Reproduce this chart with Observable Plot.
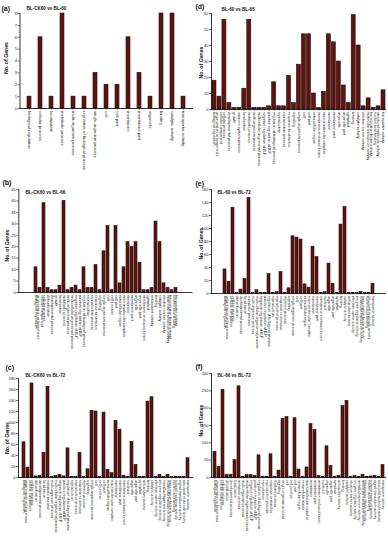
<!DOCTYPE html>
<html>
<head>
<meta charset="utf-8">
<script src="https://cdn.jsdelivr.net/npm/d3@7"></script>
<script src="https://cdn.jsdelivr.net/npm/@observablehq/plot@0.6"></script>
<style>
  html, body { margin: 0; padding: 0; background: #fff; }
  #root { position: relative; width: 388px; height: 550px; overflow: hidden; background: #fff; }
  .panel { position: absolute; }
  .panel svg { overflow: visible; }
</style>
</head>
<body>
<div id="root"></div>
<script>
// ---------- data ----------
const labelsA = ["biological regulation","cellular process","localization","metabolic process","multi-organism process","regulation of biological process","single-organism process","cell","cell part","membrane","membrane part","organelle","binding","catalytic activity","transporter activity"];
const valuesA = [1,6,1,8,1,1,3,2,2,6,3,1,8,8,1];

const labelsB = ["biological regulation","cellular component organization or biogenesis","cellular process","detoxification","developmental process","growth","localization","metabolic process","multi-organism process","multicellular organismal process","negative regulation of B.P","positive regulation of B.P","regulation of biological process","reproduction","reproductive process","response to stimulus","signaling","single-organism process","cell","cell junction","cell part","extracellular region","macromolecular complex","membrane","membrane part","organelle","organelle part","membrane-enclosed lumen","symplast","antioxidant activity","binding","catalytic activity","electron carrier activity","molecular transducer activity","nucleic acid binding transcription factor activity","transporter activity"];
const valuesB = [11,2,39,2,1,1,3,40,1,2,3,1,11,2,2,12,1,18,29,1,29,4,11,22,20,22,13,1,1,2,31,22,4,2,1,2];

const labelsC = ["biological regulation","cellular component organization or biogenesis","cellular process","detoxification","developmental process","localization","metabolic process","multi-organism process","multicellular organismal process","negative regulation of B.P","positive regulation of B.P","regulation of biological process","reproduction","reproductive process","response to stimulus","rhythmic process","signaling","single-organism process","cell","cell junction","cell part","extracellular region","macromolecular complex","membrane","membrane part","membrane-enclosed lumen","nucleoid","organelle","organelle part","symplast","antioxidant activity","binding","catalytic activity","electron carrier activity","enzyme regulator activity","metallochaperone activity","molecular transducer activity","nucleic acid binding transcription factor activity","nutrient reservoir activity","signal transducer activity","structural molecule activity","transporter activity"];
const valuesC = [64,18,171,2,3,45,165,1,3,5,2,53,1,1,45,1,15,121,120,1,118,14,8,103,87,3,1,65,23,1,1,138,146,1,5,1,5,1,1,1,1,35];

const labelsD = ["biological regulation","cellular component organization or biogenesis","cellular process","developmental process","growth","immune system process","localization","metabolic process","multi-organism process","multicellular organismal process","negative regulation of B.P","positive regulation of B.P","regulation of biological process","reproduction","reproductive process","response to stimulus","signaling","single-organism process","cell","cell part","extracellular region","membrane-enclosed lumen","macromolecular complex","membrane","membrane part","organelle","organelle part","symplast","binding","catalytic activity","electron carrier activity","molecular transducer activity","nucleic acid binding transcription factor activity","structural molecule activity","transporter activity"];
const valuesD = [18,8,56,4,1,1,13,56,1,1,1,2,17,2,2,21,4,28,47,47,10,1,11,47,42,30,15,4,59,40,2,7,1,2,12];

const labelsE = ["biological regulation","cellular component organization or biogenesis","cellular process","detoxification","developmental process","localization","metabolic process","multi-organism process","multicellular organismal process","negative regulation of B.P","positive regulation of B.P","regulation of biological process","reproduction","reproductive process","response to stimulus","rhythmic process","signaling","single-organism process","cell","cell part","extracellular region","macromolecular complex","membrane","membrane part","membrane-enclosed lumen","nucleoid","organelle","organelle part","symplast","binding","catalytic activity","antioxidant activity","electron carrier activity","enzyme regulator activity","molecular transducer activity","nucleic acid binding transcription factor activity","structural molecule activity","transporter activity"];
const valuesE = [37,18,132,1,6,22,147,1,5,1,1,30,1,2,33,1,8,88,86,83,14,9,72,56,1,2,46,15,1,106,133,1,1,1,2,1,1,15];

const labelsF = ["biological regulation","cellular component organization or biogenesis","cellular process","detoxification","developmental process","localization","metabolic process","multi-organism process","multicellular organismal process","negative regulation of B.P","positive regulation of B.P","regulation of biological process","reproduction","reproductive process","response to stimulus","rhythmic process","signaling","single-organism process","cell","cell junction","cell part","extracellular region","extracellular matrix","macromolecular complex","membrane","membrane part","membrane-enclosed lumen","nucleoid","organelle","organelle part","symplast","antioxidant activity","binding","catalytic activity","electron carrier activity","enzyme regulator activity","metallochaperone activity","molecular transducer activity","nucleic acid binding transcription factor activity","nutrient reservoir activity","signal transducer activity","structural molecule activity","transporter activity"];
const valuesF = [74,30,253,8,8,50,263,2,7,7,5,64,1,2,67,1,20,169,174,1,171,23,1,29,154,137,4,1,90,33,2,5,206,221,1,4,2,8,2,3,5,2,36];

const BAR = "#5c1510";
const EDGE = "#260906";
const FONT = "'Liberation Sans', Arial, Helvetica, sans-serif";

// wrap long tick labels onto two lines (display only)
function wrap(s, max = 32) {
  if (s.length <= max) return s;
  const words = s.split(" ");
  const lines = [];
  let line = "";
  for (const w of words) {
    const next = line ? line + " " + w : w;
    if (next.length > 30 && line) { lines.push(line); line = w; }
    else line = next;
  }
  lines.push(line);
  return lines.join("\n");
}

// ---------- panels ----------
const panels = [
  {letter:"(a)", title:"BL-CK60 vs BL-60", labels:labelsA, values:valuesA, yMax:8, yTicks:d3.range(0,9,1),
   left:0, top:0, w:194, h:175, ml:19.5, mr:1, mt:13, mb:67, pad:0.63, xFont:4.3,
   tdx:6.5, tdy:-4.5, ldx:-18.5, ldy:-5, ydx:-13.5, ydy:-3},
  {letter:"(b)", title:"BL-CK60 vs BL-66", labels:labelsB, values:valuesB, yMax:45, yTicks:d3.range(0,46,5),
   left:0, top:180, w:194, h:180, ml:18.3, mr:1.5, mt:9, mb:68, pad:0.2, xFont:3.8,
   tdx:6.7, tdy:3, ldx:-16.3, ldy:-7, ydx:-11.3, ydy:4.5},
  {letter:"(c)", title:"BL-CK60 vs BL-72", labels:labelsC, values:valuesC, yMax:180, yTicks:d3.range(0,181,20),
   left:0, top:360, w:194, h:190, ml:18, mr:1, mt:18, mb:73, pad:0.2, xFont:3.7,
   tdx:7, tdy:-3, ldx:-13, ldy:-11, ydx:-11.3, ydy:10},
  {letter:"(d)", title:"BL-60 vs BL-66", labels:labelsD, values:valuesD, yMax:60, yTicks:d3.range(0,61,10),
   left:194, top:0, w:194, h:180, ml:17, mr:2, mt:13, mb:71, pad:0.2, xFont:3.8,
   tdx:10, tdy:-4, ldx:-16, ldy:-7, ydx:-10.3, ydy:1},
  {letter:"(e)", title:"BL-60 vs BL-72", labels:labelsE, values:valuesE, yMax:160, yTicks:d3.range(0,161,20),
   left:194, top:180, w:194, h:180, ml:17, mr:2, mt:9, mb:67, pad:0.2, xFont:3.7,
   tdx:6, tdy:3, ldx:-16, ldy:-6, ydx:-10.3, ydy:2},
  {letter:"(f)", title:"BL-66 vs BL-72", labels:labelsF, values:valuesF, yMax:300, yTicks:d3.range(0,301,50),
   left:194, top:360, w:194, h:190, ml:17, mr:2, mt:13, mb:73, pad:0.2, xFont:3.6,
   tdx:6, tdy:2, ldx:-16, ldy:-7, ydx:-10.3, ydy:-5}
];

const root = document.getElementById("root");

for (const p of panels) {
  const data = p.labels.map((l, i) => ({label: l, value: p.values[i]}));
  const chart = Plot.plot({
    width: p.w, height: p.h,
    marginLeft: p.ml, marginRight: p.mr, marginTop: p.mt, marginBottom: p.mb,
    style: {fontFamily: FONT, fontSize: "4px", color: "#111", background: "transparent", overflow: "visible"},
    x: {domain: p.labels, padding: p.pad, align: 0.5},
    y: {domain: [0, p.yMax]},
    marks: [
      Plot.barY(data, {x: "label", y: "value", fill: BAR, stroke: EDGE, strokeWidth: 0.6}),
      Plot.ruleY([0], {stroke: "#000", strokeWidth: 0.8}),
      Plot.frame({anchor: "left", stroke: "#000", strokeWidth: 0.8}),
      Plot.axisY({ticks: p.yTicks, tickSize: 2, tickPadding: 1, fontSize: 4, label: null, strokeWidth: 0.6}),
      Plot.axisX({tickRotate: 90, tickSize: 1.5, tickPadding: 1, fontSize: p.xFont, label: null,
        strokeWidth: 0.5, tickFormat: d => wrap(d), lineHeight: 1.0}),
      Plot.text(["No. of Genes"], {text: d => d, frameAnchor: "left", rotate: -90, dx: p.ydx, dy: p.ydy,
        fontSize: 5.2, fontWeight: "bold", fill: "#111", textAnchor: "middle", lineAnchor: "middle"}),
      Plot.text([p.title], {text: d => d, frameAnchor: "top-left", textAnchor: "start", lineAnchor: "middle",
        dx: p.tdx, dy: p.tdy, fontSize: 4.6, fontWeight: "bold", fill: "#111"}),
      Plot.text([p.letter], {text: d => d, frameAnchor: "top-left", textAnchor: "start", lineAnchor: "middle",
        dx: p.ldx, dy: p.ldy, fontSize: 7, fontWeight: "bold", fill: "#111"})
    ]
  });
  const div = document.createElement("div");
  div.className = "panel";
  div.style.left = p.left + "px";
  div.style.top = p.top + "px";
  div.appendChild(chart);
  root.appendChild(div);
}
</script>
</body>
</html>
